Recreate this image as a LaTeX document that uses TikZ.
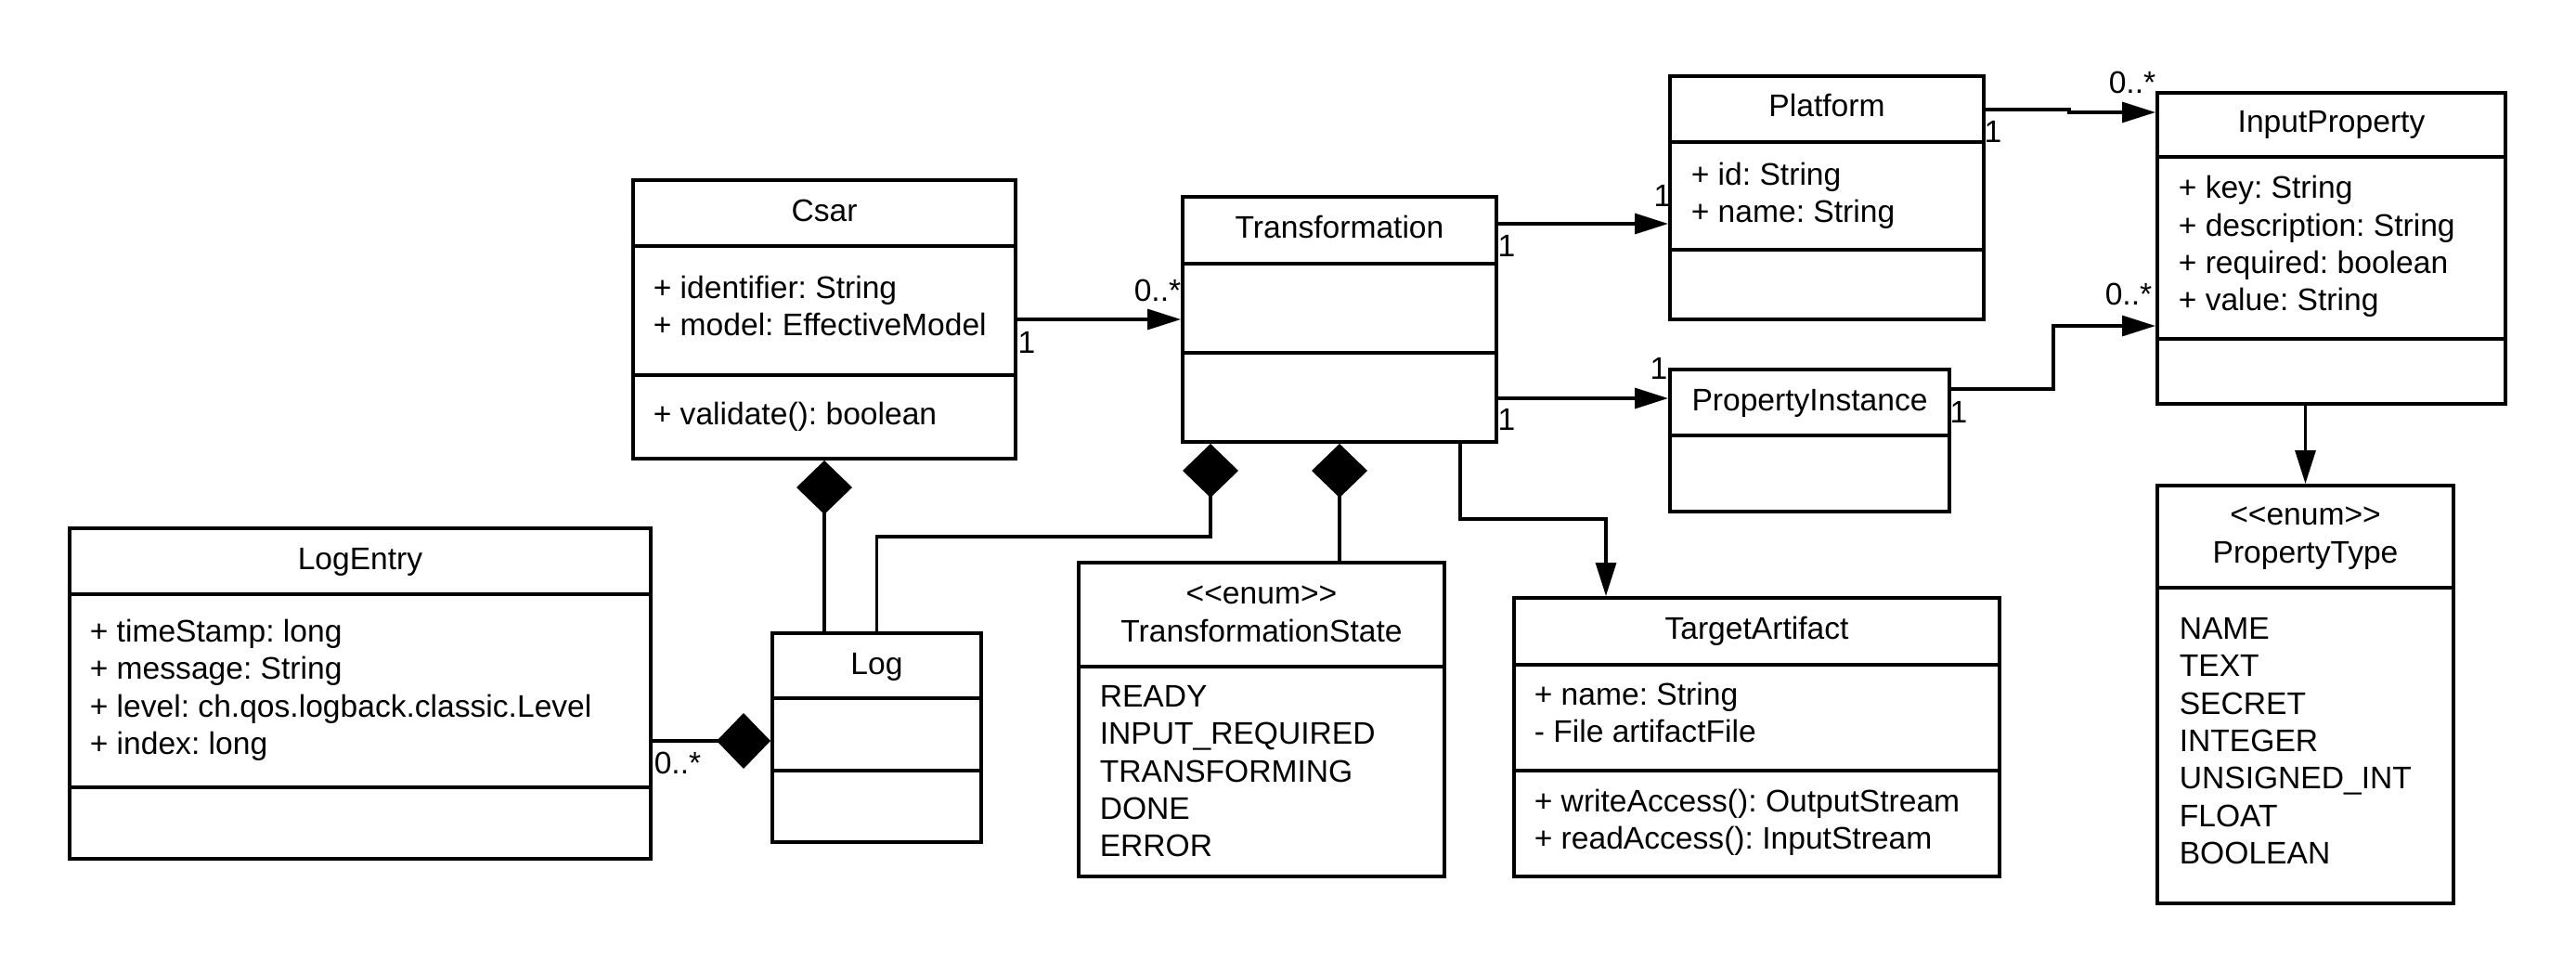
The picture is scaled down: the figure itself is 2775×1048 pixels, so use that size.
\documentclass[tikz,border=0pt]{standalone}
\usepackage{fontspec}
\setmainfont{Liberation Sans}
\frenchspacing
\usetikzlibrary{matrix}
\usetikzlibrary{arrows.meta}
\tikzset{
  classbox/.style={draw, line width=1pt, inner sep=0pt},
  classrule/.style={line width=1pt},
  members/.style={matrix of nodes, inner sep=0pt, anchor=north west,
    nodes={anchor=base west, inner sep=0pt, text height=7pt, text depth=3.1pt}},
  classname/.style={matrix of nodes, inner sep=0pt, anchor=north,
    nodes={anchor=base, inner sep=0pt, text height=7pt, text depth=3.3pt}},
  mult/.style={inner sep=0pt},
  assoc/.style={line width=0.8pt, -{Triangle[length=9pt,width=5.5pt]}},
  compo/.style={line width=0.8pt, {Diamond[length=14.5pt,width=15pt]}-},
}
\newcommand{\UMLC}[6]{%
\node[classbox, minimum width={(#4-#2)*0.25pt}, minimum height={(#5-#3)*0.25pt}] (#1) at ({(#2+#4)/2},{(#3+#5)/2}) {};
\foreach \ry in {#6} \draw[classrule] (#2,\ry) -- (#4,\ry);% compartments
}

\begin{document}
\begin{tikzpicture}[x=0.25pt, y=-0.25pt, font=\fontsize{8.4}{10.1}\selectfont]
  \useasboundingbox (0,0) rectangle (2775,1048);
  %% \UMLC{<name>}{<left>}{<top>}{<right>}{<bottom>}{<rules>}
  \UMLC{csar}{682}{194}{1094}{494}{265,404}
  \UMLC{transformation}{1274}{212}{1612}{476}{284,380}
  \UMLC{platform}{1799}{82}{2137}{344}{153,269}
  \UMLC{propinst}{1799}{398}{2100}{551}{469}
  \UMLC{inputprop}{2324}{100}{2699}{435}{169,365}
  \UMLC{proptype}{2324}{523}{2643}{973}{633}
  \UMLC{logentry}{75}{569}{701}{925}{640,848}
  \UMLC{log}{832}{682}{1057}{907}{752,830}
  \UMLC{tstate}{1162}{606}{1556}{944}{718}
  \UMLC{targetart}{1631}{644}{2154}{944}{716,830}
  %
  \matrix[classname] (csar-name) at (888,209.5) {Csar\\};
  \matrix[members] (csar-attr) at (703,292.5) {+ identifier: String\\ + model: EffectiveModel\\};
  \matrix[members] (csar-ops) at (703,428.5) {+ validate(): boolean\\};
  \matrix[classname] (trans-name) at (1443,227.5) {Transformation\\};
  \matrix[classname] (platform-name) at (1968,96.5) {Platform\\};
  \matrix[members] (platform-attr) at (1821,170.5) {+ id: String\\ + name: String\\};
  \matrix[classname] (propinst-name) at (1949.5,413.5) {PropertyInstance\\};
  \matrix[classname] (inputprop-name) at (2511.5,113.5) {InputProperty\\};
  \matrix[members] (inputprop-attr) at (2346,185) {+ key: String\\ + description: String\\ + required: boolean\\ + value: String\\};
  \matrix[classname] (proptype-name) at (2483.5,536.5) {<{}<enum>{}>\\ PropertyType\\};
  \matrix[members] (proptype-vals) at (2347,659.5) {NAME\\ TEXT\\ SECRET\\ INTEGER\\ UNSIGNED\_INT\\ FLOAT\\ BOOLEAN\\};
  \matrix[classname] (tstate-name) at (1359,621.5) {<{}<enum>{}>\\ TransformationState\\};
  \matrix[members] (tstate-vals) at (1184,732.5) {READY\\ INPUT\_REQUIRED\\ TRANSFORMING\\ DONE\\ ERROR\\};
  \matrix[classname] (targetart-name) at (1892.5,659.5) {TargetArtifact\\};
  \matrix[members] (targetart-attr) at (1652,730.5) {+ name: String\\ - File artifactFile\\};
  \matrix[members] (targetart-ops) at (1652,845.5) {+ writeAccess(): OutputStream\\ + readAccess(): InputStream\\};
  \matrix[classname] (log-name) at (944.5,697.5) {Log\\};
  \matrix[classname] (logentry-name) at (388,584.5) {LogEntry\\};
  \matrix[members] (logentry-attr) at (96,662.5) {+ timeStamp: long\\ + message: String\\ + level: ch.qos.logback.classic.Level\\ + index: long\\};
  %
  % associations:
  \draw[assoc] (csar) -- (transformation);
  \draw[assoc] (transformation.east |- 0,241) -- (platform.west |- 0,241);
  \draw[assoc] (transformation.east |- 0,429) -- (propinst.west |- 0,429);
  \draw[assoc] (platform.east |- 0,118) -| (2229,121) -- (inputprop.west |- 0,121);
  \draw[assoc] (propinst.east |- 0,419) -| (2212,351) -- (inputprop.west |- 0,351);
  \draw[assoc] (inputprop.south -| proptype.north) -- (proptype.north);
  \draw[assoc] (transformation.south -| 1573,0) |- (1730,559) -- (targetart.north -| 1730,0);
  % compositions:
  \draw[compo] (csar.south) -- (log.north -| csar.south);
  \draw[compo] (transformation.south -| 1304,0) |- (log.north |- 0,578) -- (log.north);
  \draw[compo] (transformation.south) -- (tstate.north -| transformation.south);
  \draw[compo] (log.west |- 0,798) -- (logentry.east |- 0,798);
  %
  \node[mult] (m-csar) at (1106,369) {1};
  \node[mult] (m-trans-csar) at (1247,313) {0..*};
  \node[mult] (m-trans-plat) at (1623,265) {1};
  \node[mult] (m-plat) at (1791,211) {1};
  \node[mult] (m-trans-pi) at (1623,452) {1};
  \node[mult] (m-pi) at (1787,397) {1};
  \node[mult] (m-plat-ip) at (2147,142) {1};
  \node[mult] (m-ip-plat) at (2297,89) {0..*};
  \node[mult] (m-pi-ip) at (2110,444) {1};
  \node[mult] (m-ip-pi) at (2293,317) {0..*};
  \node[mult] (m-logentry) at (730,822) {0..*};
\end{tikzpicture}
\end{document}
